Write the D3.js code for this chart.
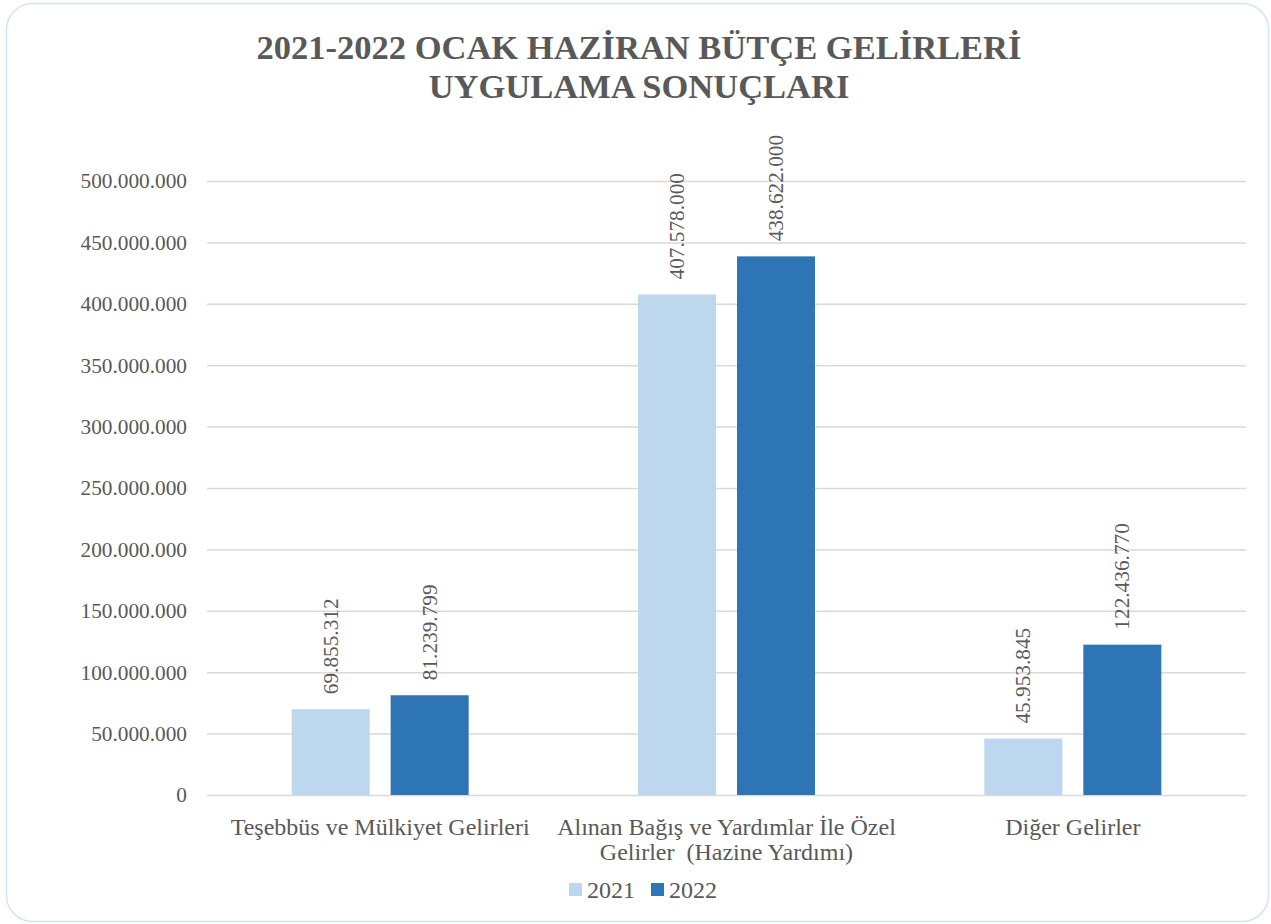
<!doctype html>
<meta charset="utf-8">
<style>
  body { margin: 0; background: #fff; }
  text { font-family: "Liberation Serif", "Times New Roman", serif; fill: #595959; white-space: pre; }
</style>
<body>
<script src="https://cdn.jsdelivr.net/npm/d3@7"></script>
<script>
var categories = [
  ["Teşebbüs ve Mülkiyet Gelirleri"],
  ["Alınan Bağış ve Yardımlar İle Özel", "Gelirler  (Hazine Yardımı)"],
  ["Diğer Gelirler"]
];
var years = ["2021", "2022"];
var values2021 = [69855312, 407578000, 45953845];
var values2022 = [81239799, 438622000, 122436770];
var yTicks = [0, 50000000, 100000000, 150000000, 200000000, 250000000, 300000000, 350000000, 400000000, 450000000, 500000000];
var colors = ["#bdd7ee", "#2e75b6"];

var W = 1271, H = 924,
  plotLeft = 207, plotRight = 1246, plotTop = 181, plotBottom = 795;

var svg = d3.select('body').append('svg').attr('width', W).attr('height', H);

// frame
svg.append('rect')
  .attr('x', 6.5).attr('y', 3.5).attr('width', W - 9).attr('height', H - 6)
  .attr('rx', 26).attr('ry', 26)
  .attr('fill', '#fff').attr('stroke', '#d5e4f3').attr('stroke-width', 1.5);

// number format with dots
function fmt(v){
  return String(v).replace(/\B(?=(\d{3})+(?!\d))/g, '.');
}

var groupW = 177;
var x0 = d3.scaleBand().domain(d3.range(categories.length)).range([plotLeft, plotRight]);
var x1 = d3.scaleBand().domain(years).range([0, groupW]).paddingInner(0.212);
var y = d3.scaleLinear().domain([0, 500000000]).range([plotBottom, plotTop]);

// title
svg.append('text').attr('x', 639).attr('y', 59).attr('text-anchor', 'middle')
  .style('font-size', '34.5px').style('font-weight', 'bold')
  .text('2021-2022 OCAK HAZİRAN BÜTÇE GELİRLERİ');
svg.append('text').attr('x', 639).attr('y', 98).attr('text-anchor', 'middle')
  .style('font-size', '34.5px').style('font-weight', 'bold')
  .text('UYGULAMA SONUÇLARI');

// y axis gridlines & labels
var yAxis = d3.axisLeft(y).tickValues(yTicks).tickSize(-(plotRight - plotLeft)).tickPadding(20)
  .tickFormat(function(d){ return fmt(d); });
var gy = svg.append('g').attr('transform', 'translate(' + plotLeft + ',0)').call(yAxis);
gy.select('.domain').remove();
gy.selectAll('.tick line').attr('stroke', '#d9d9d9').attr('stroke-width', 1.5);
gy.selectAll('.tick text').style('font-size', '21.3px').style('fill', '#595959')
  .style('font-family', '"Liberation Serif", serif');

// bars
var series = [values2021, values2022];
categories.forEach(function(c, i){
  var g = svg.append('g').attr('transform', 'translate(' + (x0(i) + (x0.bandwidth() - groupW) / 2) + ',0)');
  years.forEach(function(yr, k){
    var v = series[k][i];
    g.append('rect')
      .attr('x', x1(yr)).attr('y', y(v))
      .attr('width', x1.bandwidth()).attr('height', y(0) - y(v))
      .attr('fill', colors[k]);
    var cx = x1(yr) + x1.bandwidth() / 2;
    g.append('text')
      .attr('transform', 'translate(' + (cx + 7) + ',' + (y(v) - 15) + ') rotate(-90)')
      .attr('text-anchor', 'start')
      .style('font-size', '21.3px')
      .text(fmt(v));
  });
  // category label
  var t = svg.append('text').attr('text-anchor', 'middle').style('font-size', '24px');
  c.forEach(function(line, j){
    t.append('tspan').attr('x', x0(i) + x0.bandwidth() / 2).attr('y', 835 + j * 25).text(line);
  });
});

// legend
var legX = [569, 651];
years.forEach(function(yr, k){
  svg.append('rect').attr('x', legX[k]).attr('y', 883).attr('width', 13).attr('height', 13).attr('fill', colors[k]);
  svg.append('text').attr('x', legX[k] + 18).attr('y', 898).style('font-size', '24px').text(yr);
});
</script>
</body>
